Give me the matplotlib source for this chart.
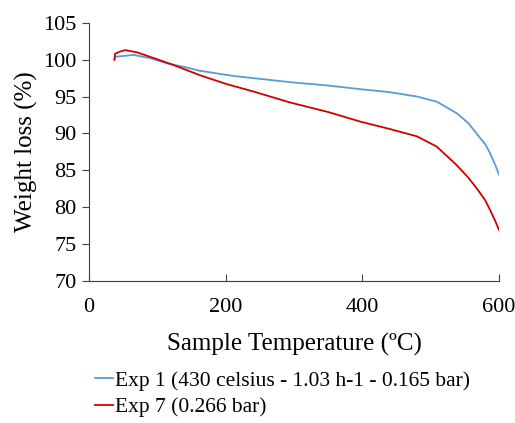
import matplotlib
matplotlib.use('Agg')
import matplotlib.pyplot as plt

# (temperature in C, weight %)
exp1_temp = [37, 38, 50, 65, 90, 114, 140, 162, 190, 211, 250, 300, 350, 397,
             440, 480, 509, 538, 555, 567, 580, 587, 595, 600]
exp1_weight = [100.0, 100.4, 100.5, 100.65, 100.2, 99.5, 99.0, 98.5, 98.1, 97.8,
               97.4, 96.9, 96.5, 96.0, 95.6, 95.0, 94.3, 92.75, 91.4, 90.0,
               88.5, 87.3, 85.6, 84.4]

exp7_temp = [37, 38, 45, 53, 70, 89, 123, 162, 201, 240, 294, 350, 397, 440,
             480, 509, 538, 555, 567, 580, 587, 595, 600]
exp7_weight = [100.0, 100.8, 101.1, 101.3, 101.0, 100.4, 99.3, 97.9, 96.7, 95.7,
               94.2, 92.9, 91.6, 90.6, 89.6, 88.2, 85.7, 84.0, 82.6, 80.9,
               79.6, 78.0, 76.9]

labels = ['Exp 1 (430 celsius - 1.03 h-1 - 0.165 bar)', 'Exp 7 (0.266 bar)']

plt.rcParams['font.family'] = ['Liberation Serif', 'DejaVu Serif']

fig = plt.figure(figsize=(5.15, 4.23), dpi=100)
ax = fig.add_axes([0.173, 0.336, 0.796, 0.610])

ax.plot(exp1_temp, exp1_weight, color='#5B9BD5', lw=1.3, label=labels[0])
ax.plot(exp7_temp, exp7_weight, color='#D00000', lw=1.3, label=labels[1])

ax.set_xlim(0, 600)
ax.set_ylim(70, 105)
ax.set_xticks([0, 200, 400, 600])
ax.set_yticks(range(70, 106, 5))
ax.spines['top'].set_visible(False)
ax.spines['right'].set_visible(False)
for s in ['left', 'bottom']:
    ax.spines[s].set_color('#404040')
ax.tick_params(axis='x', direction='in', length=5, labelsize=16, pad=12, color='#404040')
ax.tick_params(axis='y', direction='out', length=5, labelsize=16, pad=4, color='#404040')

ax.set_xlabel('Sample Temperature (ºC)', fontsize=18, labelpad=12)
ax.set_ylabel('Weight loss (%)', fontsize=18, labelpad=4)

fig.legend(loc='upper left', bbox_to_anchor=(0.184, 0.124), frameon=False,
           fontsize=15.5, handlelength=0.85, handletextpad=0.1, labelspacing=0.3,
           borderpad=0, borderaxespad=0)

fig.savefig('out.png', dpi=100)
